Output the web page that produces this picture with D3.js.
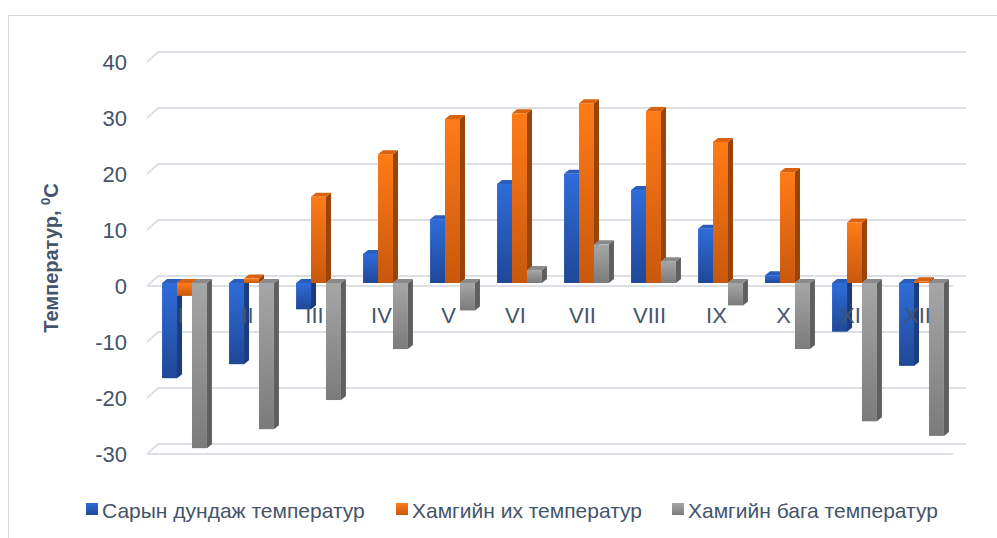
<!DOCTYPE html>
<html lang="mn">
<head>
<meta charset="UTF-8">
<title>Температур</title>
<script src="https://d3js.org/d3.v7.min.js"></script>
<style>
  body { margin: 0; background: #fff; }
  svg { display: block; font-family: Arial, "Liberation Sans", sans-serif; }
</style>
</head>
<body>
<svg id="chart" width="997" height="538"></svg>
<script>
const months = ["I", "II", "III", "IV", "V", "VI", "VII", "VIII", "IX", "X", "XI", "XII"];
const meanTemp = [-17.0, -14.5, -4.7, 5.2, 11.4, 17.7, 19.5, 16.6, 9.7, 1.4, -8.7, -14.8];
const maxTemp = [-2.3, 0.8, 15.4, 23.0, 29.3, 30.3, 32.1, 30.7, 25.2, 19.8, 10.8, 0.3];
const minTemp = [-29.5, -26.1, -20.9, -11.8, -4.9, 2.3, 6.9, 3.9, -4.0, -11.8, -24.7, -27.3];
const yTicks = [-30, -20, -10, 0, 10, 20, 30, 40];
const seriesNames = ["Сарын дундаж температур", "Хамгийн их температур", "Хамгийн бага температур"];

const series = [
  { name: seriesNames[0], values: meanTemp, front: ["#2f6cd9", "#1f4897"], side: "#1b3d7e", top: "#2a5cbc" },
  { name: seriesNames[1], values: maxTemp, front: ["#ff7b17", "#c8580d"], side: "#994308", top: "#d8620f" },
  { name: seriesNames[2], values: minTemp, front: ["#a6a6a6", "#7b7b7b"], side: "#5f5f5f", top: "#8a8a8a" }
];

const svg = d3.select("#chart");
const textColor = "#44546a";
const gridColor = "#dcdfe4";

// frame
svg.append("rect").attr("x", 8.5).attr("y", 15.5).attr("width", 1000).attr("height", 600)
  .attr("fill", "none").attr("stroke", "#d9d9d9");

const x = d3.scaleBand().domain(months).range([151, 955]).paddingInner(0.33).paddingOuter(0.165);
const xs = d3.scaleBand().domain(d3.range(series.length)).range([0, x.bandwidth()]);
const y = d3.scaleLinear().domain([-30, 40]).range([451, 59]);

// depth of the floor / walls
const wallDx = 11, wallDy = 10;
const backLeft = 158, backRight = 966, frontRight = 953;

const grid = svg.append("g").attr("stroke", gridColor).attr("stroke-width", 2).attr("fill", "none");
yTicks.forEach(t => {
  const yb = y(t) - 7;
  grid.append("path").attr("d", `M${backLeft - wallDx},${yb + wallDy}L${backLeft},${yb}L${backRight},${yb}`);
});
[0, -30].forEach(t => {
  const yf = y(t) + 3;
  grid.append("line").attr("x1", backLeft - wallDx).attr("x2", frontRight).attr("y1", yf).attr("y2", yf);
});

// y tick labels
svg.append("g").selectAll("text").data(yTicks).join("text")
  .attr("x", 127).attr("y", d => y(d) + 3).attr("dy", "0.35em")
  .attr("text-anchor", "end").attr("fill", textColor).attr("font-size", 22)
  .text(d => d);

// gradients
const defs = svg.append("defs");
series.forEach((s, i) => {
  const g = defs.append("linearGradient").attr("id", "grad" + i)
    .attr("x1", 0).attr("y1", 0).attr("x2", 0).attr("y2", 1);
  g.append("stop").attr("offset", 0).attr("stop-color", s.front[0]);
  g.append("stop").attr("offset", 1).attr("stop-color", s.front[1]);
});

// bars
const bw = xs.bandwidth();
const dX = 5, dY = 4;
const bars = svg.append("g");
months.forEach((m, mi) => {
  series.forEach((s, si) => {
    const v = s.values[mi];
    const x0 = x(m) + xs(si);
    const yTop = y(Math.max(v, 0));
    const yBot = y(Math.min(v, 0));
    const g = bars.append("g");
    g.append("path").attr("fill", s.side)
      .attr("d", `M${x0 + bw},${yTop}L${x0 + bw + dX},${yTop - dY}L${x0 + bw + dX},${yBot - dY}L${x0 + bw},${yBot}Z`);
    g.append("path").attr("fill", s.top)
      .attr("d", `M${x0},${yTop}L${x0 + dX},${yTop - dY}L${x0 + bw + dX},${yTop - dY}L${x0 + bw},${yTop}Z`);
    g.append("rect").attr("x", x0).attr("y", yTop).attr("width", bw).attr("height", Math.max(yBot - yTop, 0.5))
      .attr("fill", `url(#grad${si})`);
  });
});

// category labels
svg.append("g").selectAll("text").data(months).join("text")
  .attr("x", d => x(d) + x.bandwidth() / 2 - 4).attr("y", y(0) + 32).attr("dy", "0.35em")
  .attr("text-anchor", "middle").attr("fill", textColor).attr("font-size", 22)
  .text(d => d);

// axis title
const title = svg.append("text")
  .attr("transform", "translate(58,258) rotate(-90)")
  .attr("text-anchor", "middle").attr("fill", textColor)
  .attr("font-size", 20).attr("font-weight", "bold");
title.append("tspan").text("Температур, ");
title.append("tspan").attr("font-size", 13).attr("dy", -8).text("0");
title.append("tspan").attr("dy", 8).text("C");

// legend
const legendX = [86, 396, 672];
const legend = svg.append("g").selectAll("g").data(series).join("g")
  .attr("transform", (d, i) => `translate(${legendX[i]},503)`);
legend.append("rect").attr("width", 12).attr("height", 12).attr("fill", (d, i) => `url(#grad${i})`);
legend.append("text").attr("x", 16).attr("y", 14.5)
  .attr("fill", textColor).attr("font-size", 21)
  .text(d => d.name);
</script>
</body>
</html>
